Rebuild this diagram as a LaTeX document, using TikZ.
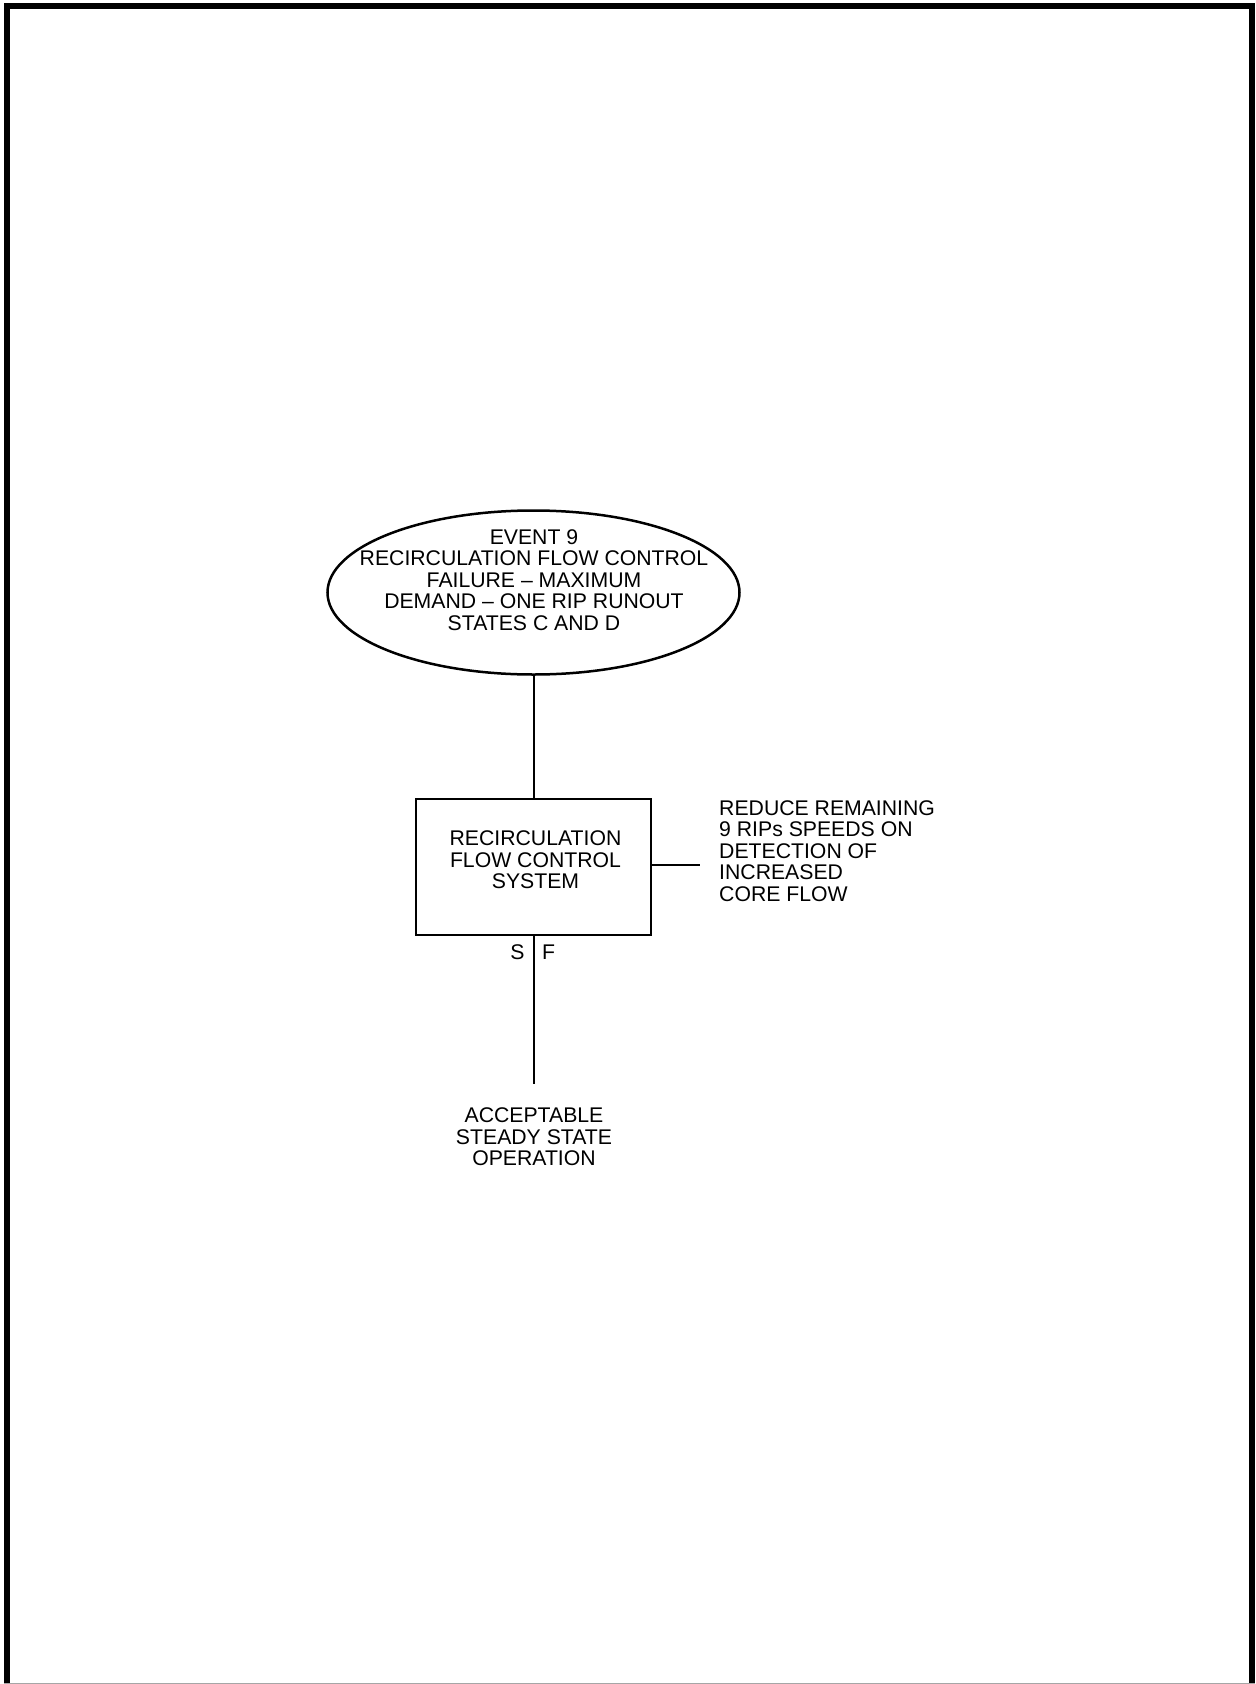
\documentclass[tikz,border=0pt]{standalone}
\usepackage{fontspec}
\setmainfont{Liberation Sans}
\usetikzlibrary{shapes.geometric}
\begin{document}
\begin{tikzpicture}[x=1bp,y=-1bp,
  lbl/.style={font=\fontsize{21.3}{21.5}\selectfont, inner sep=0pt, align=center},
  conn/.style={line width=2bp},
  evt/.style={ellipse, draw, line width=2.5bp, minimum width=412bp, minimum height=164bp, inner sep=0pt},
  sysbox/.style={rectangle, draw, line width=2.5bp, minimum width=235bp, minimum height=136bp, inner sep=0pt}]
  \useasboundingbox (0,0) rectangle (1255,1684);
  % page frame
  \draw[line width=6bp] (7,1684) -- (7,6) -- (1252,6) -- (1252,1684);
  \draw[line width=1bp, black!35] (4,1683.5) -- (1255,1683.5);

  % initiating event
  \node[evt] (event) at (533.5,592.5) {};
  \node[lbl] (eventtxt) at (534,580) {EVENT 9\\RECIRCULATION FLOW CONTROL\\FAILURE -- MAXIMUM\\DEMAND -- ONE RIP RUNOUT\\STATES C AND D};

  % system heading
  \node[sysbox] (sys) at (533.5,867) {};
  \node[lbl] (systxt) at (535.5,860) {RECIRCULATION\\FLOW CONTROL\\SYSTEM};

  % side note
  \coordinate (noteend) at (700,865);
  \node[lbl, align=left, anchor=west] (note) at (719,851) {REDUCE REMAINING\\9 RIPs SPEEDS ON\\DETECTION OF\\INCREASED\\CORE FLOW};

  % outcome
  \coordinate (branchend) at (533.5,1084);
  \node[lbl] (outcome) at (534,1137) {ACCEPTABLE\\STEADY STATE\\OPERATION};
  \node[lbl] (slbl) at (517.5,952) {S};
  \node[lbl] (flbl) at (548.5,952) {F};

  % connectors
  \draw[conn] (event.south) -- (sys.north);
  \draw[conn] (sys.east) ++(0,-2) -- (noteend);
  \draw[conn] (sys.south) -- (branchend);
\end{tikzpicture}
\end{document}
